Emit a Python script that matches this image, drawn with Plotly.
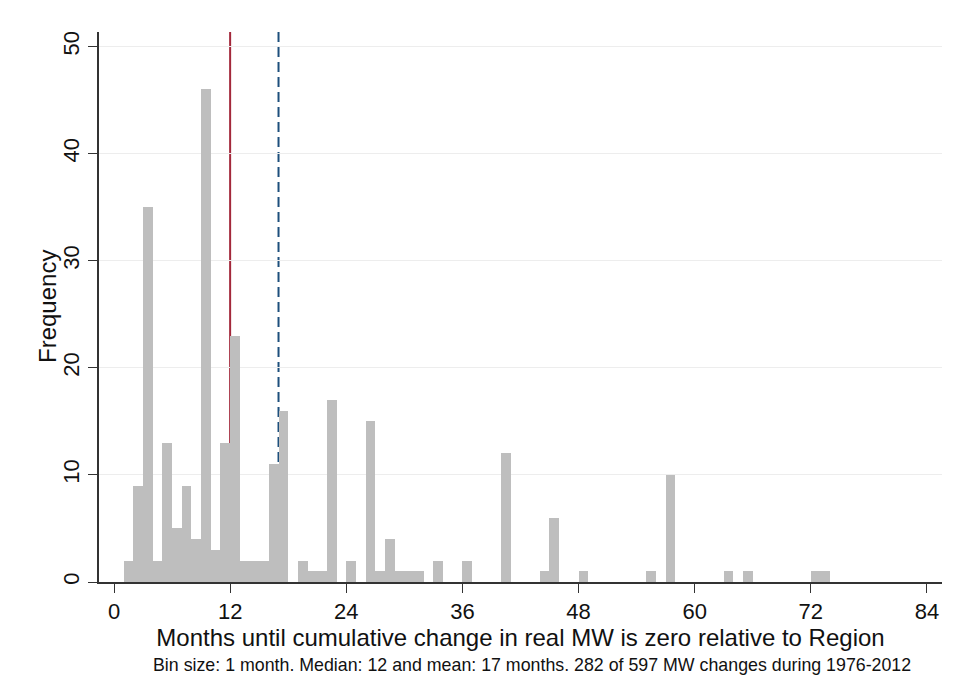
import plotly.graph_objects as go

# Histogram counts per 1-month bin (bin start month -> count)
bin_start = [1, 2, 3, 4, 5, 6, 7, 8, 9, 10, 11, 12, 13, 14, 15, 16, 17,
             19, 20, 21, 22, 24, 26, 27, 28, 29, 30, 31, 33, 36, 40, 44, 45,
             48, 55, 57, 63, 65, 72, 73]
counts = [2, 9, 35, 2, 13, 5, 9, 4, 46, 3, 13, 23, 2, 2, 2, 11, 16,
          2, 1, 1, 17, 2, 15, 1, 4, 1, 1, 1, 2, 2, 12, 1, 6,
          1, 1, 10, 1, 1, 1, 1]
median_months = 12
mean_months = 17
x_ticks = [0, 12, 24, 36, 48, 60, 72, 84]
y_ticks = [0, 10, 20, 30, 40, 50]

FONT = "Liberation Sans, Arial, Helvetica, sans-serif"

fig = go.Figure()
fig.add_trace(go.Bar(
    x=[b + 0.5 for b in bin_start],
    y=counts,
    width=1,
    marker=dict(color="#BEBEBE", line=dict(width=0)),
    showlegend=False,
))

fig.add_shape(type="line", xref="x", yref="paper", x0=median_months, x1=median_months,
              y0=0, y1=1, line=dict(color="#A3283B", width=2), layer="between")
fig.add_shape(type="line", xref="x", yref="paper", x0=mean_months, x1=mean_months,
              y0=0, y1=1, line=dict(color="#1D4F7C", width=2, dash="10px,5px"), layer="between")

# page body has an 8px margin, so the figure is 8px smaller on each axis
fig.update_layout(
    width=952, height=673,
    margin=dict(l=91, r=18, t=24, b=99, autoexpand=False),
    paper_bgcolor="white", plot_bgcolor="white",
    font=dict(family=FONT, color="#111111"),
    bargap=0,
)
fig.update_xaxes(
    range=[-1.55, 85.56], tickvals=x_ticks, ticktext=[str(v) for v in x_ticks],
    ticks="outside", ticklen=9, tickwidth=1.2, tickcolor="#333333",
    showline=True, linecolor="#333333", linewidth=1.5,
    showgrid=False, zeroline=False, automargin=False,
    tickfont=dict(size=22),
    title=dict(text="Months until cumulative change in real MW is zero relative to Region",
               font=dict(size=24), standoff=2),
)
fig.update_yaxes(
    range=[0, 51.35], tickvals=y_ticks, ticktext=[str(v) for v in y_ticks],
    ticks="outside", ticklen=9, tickwidth=1.2, tickcolor="#333333", tickangle=-90,
    showline=True, linecolor="#333333", linewidth=1.5,
    showgrid=True, gridcolor="#EDEDED", gridwidth=1.2, zeroline=False, automargin=False,
    tickfont=dict(size=22),
)
fig.add_annotation(
    text="Frequency", textangle=-90,
    xref="paper", yref="paper", x=0, y=0.5, xanchor="center", yanchor="middle",
    xshift=-52, showarrow=False, font=dict(size=24),
)
fig.add_annotation(
    text="Bin size: 1 month. Median: 12 and mean: 17 months. 282 of 597 MW changes during 1976-2012",
    xref="paper", yref="paper", x=0.514, y=-0.151, xanchor="center", yanchor="middle",
    showarrow=False, font=dict(size=17.8),
)

fig.write_html("out.html")
